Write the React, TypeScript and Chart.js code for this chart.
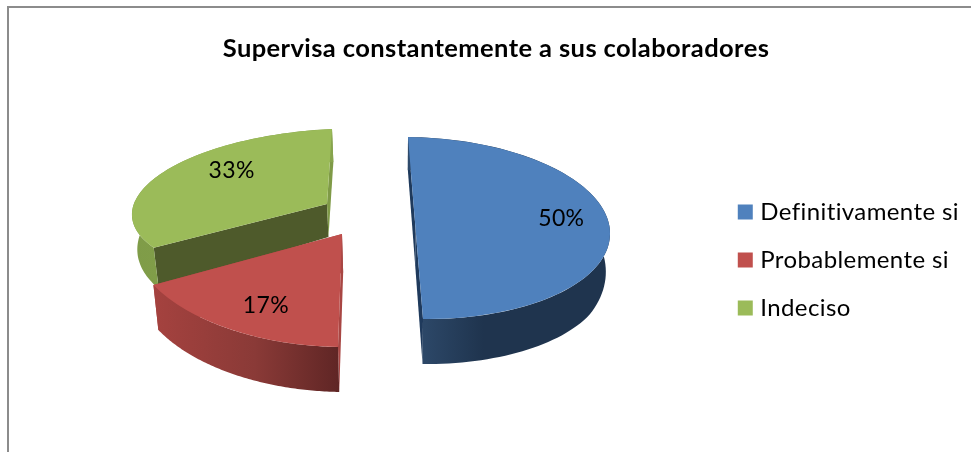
import React, { useEffect, useRef } from "react";
import { Chart, registerables } from "chart.js";

Chart.register(...registerables);

const categories = ["Definitivamente si", "Probablemente si", "Indeciso"];
const values = [50, 17, 33];
const colors = ["#4f81bd", "#c0504d", "#9bbb59"];
const chartTitle = "Supervisa constantemente a sus colaboradores";

const FONT = "Lato, Carlito, Calibri, sans-serif";
const SPACING = "0.4px";

// Per-slice 3D projection of the library's arcs (style only): exploded centre and ellipse axes.
const projection = [
  { cx: 415.5, cy: 228, rx: 194.4, ry: 2, dx: 7.5, dy: 91, labelF: 0.75, labelDy: -11 },
  { cx: 342, cy: 234, rx: 213, ry: 4, dx: -4, dy: 113, labelF: 0.68, labelDy: 7 },
  { cx: 327, cy: 204, rx: 195, ry: -8.6, dx: -5, dy: 75, labelF: 0.577, labelDy: -16 },
];
const wallColors = ["#1f3a5c", "#a84643", "#7f9a47"];
const sideStops: [number, string][][] = [
  [[0, "#2e4a6b"], [0.35, "#1f344e"], [1, "#1f344e"]],
  [[0, "#a5423f"], [0.55, "#8a3a37"], [1, "#602625"]],
  [[0, "#7f9c48"], [1, "#87a44d"]],
];
const GREEN_INNER_WALL = "#4e5a2b";

const extrude = (x: number, y: number): [number, number] => {
  const depth = Math.min(45, 33 + Math.max(0, y - 204) * 0.18);
  return [x + (400 - x) * 0.02, y + depth];
};

const pie3d = {
  id: "pie3d",
  beforeUpdate(chart: any) {
    chart.ctx.letterSpacing = SPACING;
  },
  beforeDraw(chart: any) {
    const { ctx, width, height } = chart;
    ctx.letterSpacing = SPACING;
    ctx.save();
    ctx.fillStyle = "#ffffff";
    ctx.fillRect(0, 0, width, height);
    ctx.fillStyle = "#8c8c8c";
    ctx.fillRect(7, 6, width - 7, 2);
    ctx.fillRect(7, 6, 2, height - 6);
    ctx.restore();
  },
  beforeDatasetsDraw(chart: any) {
    const { ctx } = chart;
    const arcs = chart.getDatasetMeta(0).data;
    for (const i of [2, 1, 0]) {
      const arc = arcs[i];
      const p = projection[i];
      const pt = (t: number): [number, number] => [
        p.cx + p.rx * Math.cos(t) + p.dx * Math.sin(t),
        p.cy + p.ry * Math.cos(t) + p.dy * Math.sin(t),
      ];
      const a0 = arc.startAngle;
      const a1 = arc.endAngle;
      const rim: [number, number][] = [];
      for (let k = 0; k <= 90; k++) rim.push(pt(a0 + ((a1 - a0) * k) / 90));

      // straight inner walls
      const apex: [number, number] = [p.cx, p.cy];
      for (const edge of [rim[0], rim[rim.length - 1]]) {
        const q = [edge, extrude(edge[0], edge[1]), extrude(apex[0], apex[1]), apex];
        ctx.beginPath();
        q.forEach((c, n) => (n ? ctx.lineTo(c[0], c[1]) : ctx.moveTo(c[0], c[1])));
        ctx.closePath();
        ctx.fillStyle = i === 2 && edge === rim[0] ? GREEN_INNER_WALL : wallColors[i];
        ctx.fill();
      }

      // curved outer side
      const xs = rim.map((c) => c[0]);
      const minX = Math.min(...xs);
      const maxX = Math.max(...xs);
      const grad = ctx.createLinearGradient(i === 0 ? p.cx : minX, 0, maxX, 0);
      sideStops[i].forEach(([o, c]) => grad.addColorStop(o, c));
      ctx.beginPath();
      rim.forEach((c, n) => (n ? ctx.lineTo(c[0], c[1]) : ctx.moveTo(c[0], c[1])));
      [...rim].reverse().forEach((c) => {
        const e = extrude(c[0], c[1]);
        ctx.lineTo(e[0], e[1]);
      });
      ctx.closePath();
      ctx.fillStyle = grad;
      ctx.fill();

      // top face: the library's own arc under the projection
      const r = arc.outerRadius;
      const a = p.rx / r;
      const b = p.ry / r;
      const c = p.dx / r;
      const d = p.dy / r;
      ctx.save();
      ctx.transform(a, b, c, d, p.cx - (a * arc.x + c * arc.y), p.cy - (b * arc.x + d * arc.y));
      arc.draw(ctx);
      ctx.restore();
    }

    // percentage labels
    ctx.save();
    ctx.font = `23px ${FONT}`;
    ctx.fillStyle = "#000000";
    ctx.textAlign = "center";
    ctx.textBaseline = "middle";
    for (let i = 0; i < arcs.length; i++) {
      const p = projection[i];
      const mid = (arcs[i].startAngle + arcs[i].endAngle) / 2;
      const lx = p.cx + p.labelF * (p.rx * Math.cos(mid) + p.dx * Math.sin(mid));
      const ly = p.cy + p.labelF * (p.ry * Math.cos(mid) + p.dy * Math.sin(mid)) + p.labelDy;
      ctx.fillText(`${values[i]}%`, lx, ly);
    }
    ctx.restore();
    return false;
  },
};

export default function App() {
  const ref = useRef<HTMLCanvasElement | null>(null);
  useEffect(() => {
    document.body.style.margin = "0";
    const chart = new Chart(ref.current as HTMLCanvasElement, {
      type: "pie",
      data: {
        labels: categories,
        datasets: [{ data: values, backgroundColor: colors, borderWidth: 0, radius: 100 } as any],
      },
      options: {
        responsive: false,
        animation: false,
        layout: { padding: { left: 23, top: 33, right: 2, bottom: -35 } },
        plugins: {
          title: {
            display: true,
            text: chartTitle,
            color: "#000000",
            font: { family: FONT, size: 25.5, weight: "bold" },
            padding: { top: 0, bottom: 44 },
          },
          legend: {
            display: true,
            position: "right",
            labels: {
              color: "#000000",
              font: { family: FONT, size: 24 },
              usePointStyle: true,
              pointStyle: "rect",
              boxWidth: 6,
              boxHeight: 15,
              padding: 24,
            },
          },
          tooltip: { enabled: false },
        },
      },
      plugins: [pie3d],
    } as any);
    return () => chart.destroy();
  }, []);
  return <canvas ref={ref} width={971} height={452} style={{ display: "block", width: 971, height: 452 }} />;
}
